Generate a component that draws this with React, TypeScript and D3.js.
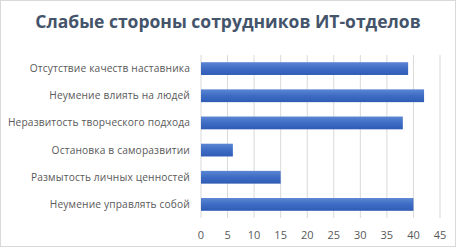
import React from "react";
import * as d3 from "d3";

const categories = [
  "Отсутствие качеств наставника",
  "Неумение влиять на людей",
  "Неразвитость творческого подхода",
  "Остановка в саморазвитии",
  "Размытость личных ценностей",
  "Неумение управлять собой",
];
const values = [39, 42, 38, 6, 15, 40];
const ticks = [0, 5, 10, 15, 20, 25, 30, 35, 40, 45];
const title = "Слабые стороны сотрудников ИТ-отделов";

export default function App() {
  const W = 456, H = 247;
  const left = 201, right = 440, top = 55, bottom = 218;
  const x = d3.scaleLinear().domain([0, 45]).range([left, right]);
  const y = d3.scaleBand().domain(categories).range([top, bottom]).paddingInner(0.53).paddingOuter(0.265);
  return (
    <svg width={W} height={H} style={{ position: "absolute", left: 0, top: 0 }}>
      <defs>
        <linearGradient id="bg" x1="0" y1="0" x2="0" y2="1">
          <stop offset="0" stopColor="#5B86D3" />
          <stop offset="0.5" stopColor="#3E6CC4" />
          <stop offset="1" stopColor="#2F5BB5" />
        </linearGradient>
      </defs>
      <rect x={0.5} y={0.5} width={W - 1} height={H - 1} fill="#fff" stroke="#D9D9D9" />
      <text x={228} y={28} textAnchor="middle" fontFamily="Open Sans" fontWeight="bold" fontSize={17.5} fill="#44546A">{title}</text>
      {ticks.map((t) => (
        <line key={t} x1={x(t)} x2={x(t)} y1={top} y2={bottom} stroke="#D9D9D9" strokeWidth={1} />
      ))}
      {categories.map((c, i) => (
        <rect key={c} x={x(0)} y={y(c)!} width={x(values[i]) - x(0)} height={y.bandwidth()} fill="url(#bg)" />
      ))}
      {categories.map((c) => (
        <text key={c} x={190} y={y(c)! + y.bandwidth() / 2} dy="0.35em" textAnchor="end" fontFamily="Open Sans" fontSize={10.2} letterSpacing={0.15} fill="#595959">{c}</text>
      ))}
      {ticks.map((t) => (
        <text key={t} x={x(t)} y={235} dy="0.35em" textAnchor="middle" fontFamily="Open Sans" fontSize={11} fill="#595959">{t}</text>
      ))}
    </svg>
  );
}
